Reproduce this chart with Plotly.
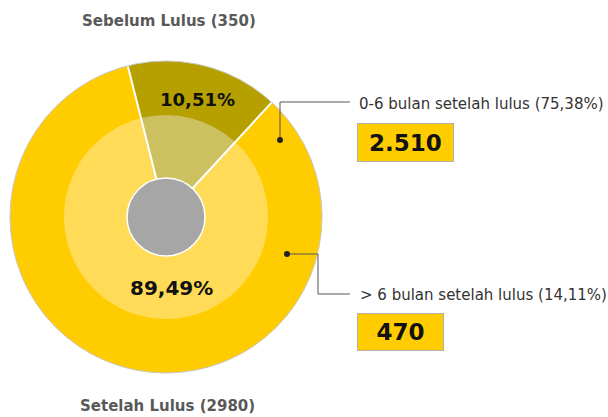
import math
import plotly.graph_objects as go

W, H = 608, 417

# Data
groups = ["Sebelum Lulus", "Setelah Lulus"]
group_counts = [350, 2980]
group_pct_labels = ["10,51%", "89,49%"]
# wedge shares as drawn in the reference (infographic proportions)
wedge_shares = [15.8, 84.2]
sub_labels = ["0-6 bulan setelah lulus (75,38%)", "> 6 bulan setelah lulus (14,11%)"]
sub_counts = ["2.510", "470"]

outer_colors = ["#b5a000", "#ffcc00"]
inner_colors = ["#cdc060", "#ffdb58"]
ROT = -14.2

# geometry (page pixels)
cx, cy = 166, 217
R_out, R_in, R_core = 156, 102, 39


def dom(r):
    return dict(x=[(cx - r) / W, (cx + r) / W],
                y=[1 - (cy + r) / H, 1 - (cy - r) / H])


fig = go.Figure()
for r, cols in ((R_out, outer_colors), (R_in, inner_colors)):
    fig.add_trace(go.Pie(
        values=wedge_shares, labels=groups, sort=False, direction="clockwise", rotation=ROT,
        marker=dict(colors=cols, line=dict(color="rgba(0,0,0,0)", width=0)),
        textinfo="none", hoverinfo="skip", domain=dom(r), showlegend=False,
    ))

shapes = []
# white separators between wedges, derived from the shares
total = sum(wedge_shares)
acc = 0.0
for v in wedge_shares:
    ang = math.radians(ROT + 360 * acc / total)
    shapes.append(dict(type="line", xref="x", yref="y", x0=cx, y0=cy,
                       x1=cx + R_out * math.sin(ang), y1=cy - R_out * math.cos(ang),
                       line=dict(color="white", width=2), layer="above"))
    acc += v

shapes += [
    dict(type="circle", xref="x", yref="y", x0=cx - R_out, x1=cx + R_out, y0=cy - R_out, y1=cy + R_out,
         line=dict(color="#c8c8c8", width=1), layer="above"),
    dict(type="circle", xref="x", yref="y", x0=cx - R_core, x1=cx + R_core, y0=cy - R_core, y1=cy + R_core,
         fillcolor="#a6a6a6", line=dict(color="white", width=1.5), layer="above"),
    dict(type="path", xref="x", yref="y", path="M 280 140 L 280 102 L 350 102",
         line=dict(color="#555555", width=1), layer="above"),
    dict(type="path", xref="x", yref="y", path="M 287 254 L 318 254 L 318 294 L 350 294",
         line=dict(color="#555555", width=1), layer="above"),
    dict(type="circle", xref="x", yref="y", x0=277, x1=283, y0=137, y1=143,
         fillcolor="#222222", line=dict(width=0), layer="above"),
    dict(type="circle", xref="x", yref="y", x0=284, x1=290, y0=251, y1=257,
         fillcolor="#222222", line=dict(width=0), layer="above"),
]

FONT = "DejaVu Sans"
ann = [
    dict(x=169, y=21, text=f"<b>{groups[0]} ({group_counts[0]})</b>",
         font=dict(family=FONT, size=15, color="#595959")),
    dict(x=167, y=406, text=f"<b>{groups[1]} ({group_counts[1]})</b>",
         font=dict(family=FONT, size=15, color="#595959")),
    dict(x=197, y=99, text=f"<b>{group_pct_labels[0]}</b>",
         font=dict(family=FONT, size=18, color="#111111")),
    dict(x=171, y=288, text=f"<b>{group_pct_labels[1]}</b>",
         font=dict(family=FONT, size=20, color="#111111")),
    dict(x=357, y=104, text=sub_labels[0], xanchor="left",
         font=dict(family=FONT, size=15, color="#333333")),
    dict(x=358, y=295, text=sub_labels[1], xanchor="left",
         font=dict(family=FONT, size=15, color="#333333")),
    dict(x=357, y=142.5, text=f"<b>{sub_counts[0]}</b>", xanchor="left", width=95, height=37,
         bgcolor="#ffcc00", bordercolor="#b0b0b0", borderwidth=1, borderpad=0,
         font=dict(family=FONT, size=23, color="#111111")),
    dict(x=357, y=332, text=f"<b>{sub_counts[1]}</b>", xanchor="left", width=85, height=36,
         bgcolor="#ffcc00", bordercolor="#b0b0b0", borderwidth=1, borderpad=0,
         font=dict(family=FONT, size=23, color="#111111")),
]
for a in ann:
    a.update(xref="x", yref="y", showarrow=False)
    a.setdefault("xanchor", "center")
    a.setdefault("yanchor", "middle")

fig.update_layout(
    width=W, height=H, margin=dict(l=0, r=0, t=0, b=0),
    paper_bgcolor="white", plot_bgcolor="rgba(0,0,0,0)",
    xaxis=dict(range=[0, W], visible=False, fixedrange=True, domain=[0, 1]),
    yaxis=dict(range=[H, 0], visible=False, fixedrange=True, domain=[0, 1]),
    shapes=shapes, annotations=ann, showlegend=False,
)
fig.write_html("out.html", config={"displayModeBar": False},
               post_script="document.body.style.margin='0';document.body.style.overflow='hidden';")
